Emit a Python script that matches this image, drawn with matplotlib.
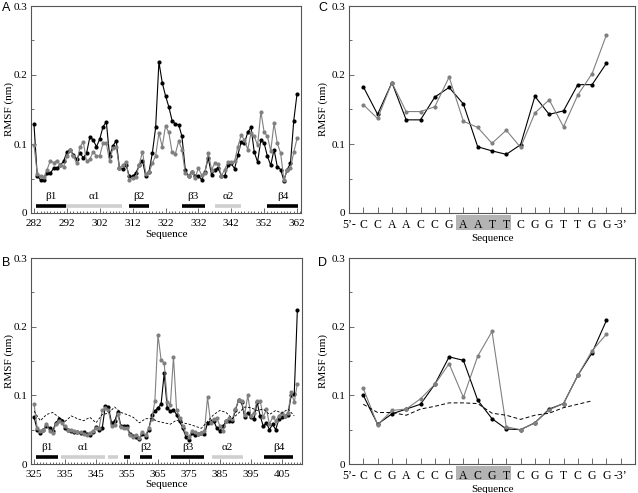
import matplotlib
matplotlib.use('Agg')
import matplotlib.pyplot as plt
from matplotlib.ticker import MultipleLocator
from matplotlib.patches import Rectangle

plt.rcParams['font.family'] = ['Liberation Serif', 'DejaVu Serif']
plt.rcParams['font.size'] = 8

# panel A: residues 282-362
res_a = list(range(282, 363))
black_a = [0.129, 0.054, 0.048, 0.048, 0.058, 0.058, 0.065, 0.065, 0.069, 0.075,
           0.088, 0.092, 0.084, 0.078, 0.087, 0.080, 0.087, 0.110, 0.106, 0.096,
           0.107, 0.125, 0.132, 0.083, 0.097, 0.105, 0.065, 0.064, 0.070, 0.053,
           0.053, 0.058, 0.069, 0.076, 0.053, 0.060, 0.087, 0.124, 0.219,
           0.189, 0.170, 0.154, 0.134, 0.129, 0.128, 0.111, 0.063, 0.053, 0.060,
           0.053, 0.054, 0.048, 0.060, 0.080, 0.055, 0.063, 0.065, 0.054, 0.054,
           0.069, 0.072, 0.064, 0.084, 0.103, 0.101, 0.117, 0.124, 0.088, 0.074,
           0.106, 0.101, 0.082, 0.069, 0.092, 0.067, 0.063, 0.047, 0.063, 0.072,
           0.134, 0.173]
gray_a = [0.099, 0.057, 0.053, 0.052, 0.063, 0.076, 0.073, 0.076, 0.070, 0.067,
          0.082, 0.092, 0.082, 0.072, 0.096, 0.103, 0.075, 0.078, 0.089, 0.083,
          0.083, 0.101, 0.101, 0.075, 0.094, 0.096, 0.065, 0.069, 0.074, 0.048,
          0.051, 0.052, 0.070, 0.089, 0.057, 0.059, 0.072, 0.083, 0.116,
          0.096, 0.126, 0.117, 0.088, 0.086, 0.104, 0.092, 0.058, 0.053, 0.060,
          0.051, 0.065, 0.055, 0.058, 0.087, 0.063, 0.072, 0.071, 0.054, 0.063,
          0.074, 0.074, 0.075, 0.096, 0.113, 0.106, 0.092, 0.116, 0.111, 0.098,
          0.147, 0.117, 0.111, 0.090, 0.130, 0.101, 0.087, 0.048, 0.063, 0.065,
          0.088, 0.108]
ss_a = [('β1', 282.6, 291.8, 'k'), ('α1', 291.8, 308.8, '#cfcfcf'),
        ('β2', 310.8, 316.9, 'k'), ('β3', 326.9, 334.0, 'k'),
        ('α2', 336.9, 345.1, '#cfcfcf'), ('β4', 353.0, 362.2, 'k')]

# panel B: residues 325-410
res_b = list(range(325, 411))
black_b = [0.068, 0.050, 0.045, 0.050, 0.055, 0.052, 0.048, 0.060, 0.065, 0.062,
           0.052, 0.050, 0.048, 0.047, 0.046, 0.045, 0.046, 0.043, 0.042, 0.046,
           0.054, 0.050, 0.052, 0.085, 0.083, 0.060, 0.062, 0.076, 0.056, 0.055,
           0.055, 0.043, 0.041, 0.040, 0.037, 0.044, 0.040, 0.050, 0.072, 0.077,
           0.082, 0.087, 0.132, 0.081, 0.077, 0.079, 0.072, 0.062, 0.052, 0.040,
           0.035, 0.045, 0.042, 0.043, 0.045, 0.043, 0.060, 0.062, 0.063, 0.052,
           0.048, 0.055, 0.062, 0.063, 0.062, 0.078, 0.093, 0.090, 0.068, 0.075,
           0.068, 0.065, 0.090, 0.070, 0.055, 0.060, 0.050, 0.058, 0.050, 0.065,
           0.068, 0.070, 0.072, 0.100, 0.102, 0.224]
gray_b = [0.087, 0.052, 0.048, 0.050, 0.058, 0.048, 0.045, 0.058, 0.063, 0.060,
          0.055, 0.050, 0.049, 0.048, 0.046, 0.047, 0.044, 0.042, 0.045, 0.048,
          0.052, 0.053, 0.078, 0.082, 0.078, 0.055, 0.057, 0.073, 0.054, 0.053,
          0.052, 0.042, 0.040, 0.042, 0.038, 0.046, 0.042, 0.052, 0.065, 0.092,
          0.188, 0.152, 0.147, 0.091, 0.086, 0.156, 0.079, 0.067, 0.055, 0.045,
          0.040, 0.048, 0.046, 0.044, 0.045, 0.048, 0.097, 0.060, 0.065, 0.067,
          0.055, 0.048, 0.062, 0.067, 0.065, 0.080, 0.093, 0.092, 0.072, 0.100,
          0.070, 0.075, 0.092, 0.092, 0.068, 0.080, 0.058, 0.068, 0.063, 0.070,
          0.075, 0.070, 0.075, 0.105, 0.090, 0.117]
dash_res_b = list(range(325, 410, 2))
dash_b = [0.077, 0.063, 0.072, 0.075, 0.068, 0.062, 0.070, 0.066, 0.063, 0.068,
          0.060, 0.072, 0.074, 0.083, 0.075, 0.072, 0.068, 0.060, 0.066, 0.066,
          0.062, 0.060, 0.058, 0.064, 0.060, 0.058, 0.055, 0.052, 0.062, 0.072,
          0.078, 0.075, 0.066, 0.074, 0.083, 0.082, 0.078, 0.080, 0.072, 0.078,
          0.074, 0.080, 0.070]
ss_b = [('β1', 325.6, 332.8, 'k'), ('α1', 333.7, 347.8, '#cfcfcf'),
        ('', 348.9, 352.1, '#cfcfcf'), ('', 353.9, 355.9, 'k'),
        ('β2', 359.1, 363.2, 'k'), ('β3', 369.3, 380.0, 'k'),
        ('α2', 382.3, 392.3, '#cfcfcf'), ('β4', 399.3, 408.6, 'k')]

# panel C / D: DNA positions 1-18
seq_c = ['5’-', 'C', 'C', 'A', 'A', 'C', 'C', 'G', 'A', 'A', 'T', 'T',
         'C', 'G', 'G', 'T', 'T', 'G', 'G', '-3’']
pos_cd = list(range(1, 19))
black_c = [0.183, 0.143, 0.189, 0.135, 0.135, 0.168, 0.182, 0.158, 0.096,
           0.090, 0.085, 0.099, 0.169, 0.143, 0.148, 0.186, 0.186, 0.217]
gray_c = [0.157, 0.137, 0.189, 0.147, 0.147, 0.154, 0.197, 0.133, 0.124,
          0.101, 0.120, 0.095, 0.145, 0.164, 0.125, 0.171, 0.202, 0.258]

seq_d = ['5’-', 'C', 'C', 'G', 'A', 'C', 'C', 'G', 'A', 'C', 'G', 'T',
         'C', 'G', 'G', 'T', 'C', 'G', 'G', '-3’']
black_d = [0.100, 0.058, 0.073, 0.080, 0.087, 0.116, 0.156, 0.151, 0.093,
           0.066, 0.051, 0.050, 0.060, 0.080, 0.088, 0.129, 0.162, 0.209]
gray_d = [0.110, 0.057, 0.078, 0.080, 0.095, 0.116, 0.146, 0.097, 0.157,
          0.193, 0.054, 0.050, 0.060, 0.079, 0.088, 0.129, 0.165, 0.189]
dash_pos_d = list(range(1, 18))
dash_d = [0.087, 0.075, 0.075, 0.071, 0.080, 0.084, 0.089, 0.089, 0.088,
          0.074, 0.071, 0.065, 0.071, 0.074, 0.082, 0.087, 0.092]

W, H = 638, 493
fig = plt.figure(figsize=(W / 100, H / 100), dpi=100)


def box(l, t, r, b):
    return [l / W, 1 - b / H, (r - l) / W, (b - t) / H]


def style(ax, ylab_x, xlab_y):
    for s in ax.spines.values():
        s.set_color('#555555')
        s.set_linewidth(0.8)
    ax.set_ylim(0, 0.3)
    ax.set_yticks([0, 0.1, 0.2, 0.3])
    ax.set_yticklabels(['0', '0.1', '0.2', '0.3'])
    ax.yaxis.set_minor_locator(MultipleLocator(0.05))
    ax.tick_params(which='both', direction='in', width=0.6, color='#555555')
    ax.tick_params(which='major', length=3.5)
    ax.tick_params(which='minor', length=2)
    ax.tick_params(axis='y', pad=2.5)
    ax.tick_params(axis='x', pad=4)
    ax.set_ylabel('RMSF (nm)')
    ax.set_xlabel('Sequence')
    ax.yaxis.set_label_coords(ylab_x, 0.5)
    ax.xaxis.set_label_coords(0.5, xlab_y)


def series(ax, x, blk, gry):
    ax.plot(x, blk, '-o', color='black', lw=0.8, ms=3, mew=0)
    ax.plot(x, gry, '-o', color='#808080', lw=0.8, ms=3, mew=0)


def sec_struct(ax, items):
    for name, x0, x1, c in items:
        ax.plot([x0, x1], [0.0105, 0.0105], color=c, lw=2.6, solid_capstyle='butt')
        if name:
            ax.text((x0 + x1) / 2, 0.017, name, ha='center', va='bottom', fontsize=8)


# A
ax = fig.add_axes(box(31, 6, 301, 213))
series(ax, res_a, black_a, gray_a)
sec_struct(ax, ss_a)
ax.set_xlim(281.1, 363.2)
ax.set_xticks(list(range(282, 363, 10)))
ax.xaxis.set_minor_locator(MultipleLocator(1))
style(ax, -0.062, -0.08)
ax.tick_params(axis='x', which='minor', length=1.5)

# B
ax = fig.add_axes(box(31, 258, 302, 464))
series(ax, res_b, black_b, gray_b)
ax.plot(dash_res_b, dash_b, color='black', lw=0.6, dashes=(3, 2))
sec_struct(ax, ss_b)
ax.set_xlim(324.0, 411.5)
ax.set_xticks(list(range(325, 410, 10)))
ax.xaxis.set_minor_locator(MultipleLocator(1))
style(ax, -0.062, -0.08)
ax.tick_params(axis='x', which='minor', length=1.5)

# C and D
for (top, bot), seq, blk, gry in [((6, 213), seq_c, black_c, gray_c),
                                   ((258, 464), seq_d, black_d, gray_d)]:
    ax = fig.add_axes(box(349, top, 635, bot))
    series(ax, pos_cd, blk, gry)
    if seq is seq_d:
        ax.plot(dash_pos_d, dash_d, color='black', lw=0.7, dashes=(4, 2.5))
    ax.set_xlim(0, 20)
    ax.set_xticks(list(range(20)))
    ax.set_xticklabels(seq)
    style(ax, -0.072, -0.1)
    ax.tick_params(axis='x', which='major', length=4, labelsize=8.5)
    ax.add_patch(Rectangle((7.5, -0.08), 3.86, 0.068, transform=ax.get_xaxis_transform(),
                           facecolor='#b3b3b3', edgecolor='none', clip_on=False, zorder=0))

for lbl, x, y in [('A', 2, 11), ('B', 2, 266), ('C', 318, 11), ('D', 318, 266)]:
    fig.text(x / W, 1 - y / H, lbl, fontsize=9, family=['Liberation Sans', 'DejaVu Sans'],
             va='baseline', ha='left')

fig.savefig('out.png', dpi=100)
